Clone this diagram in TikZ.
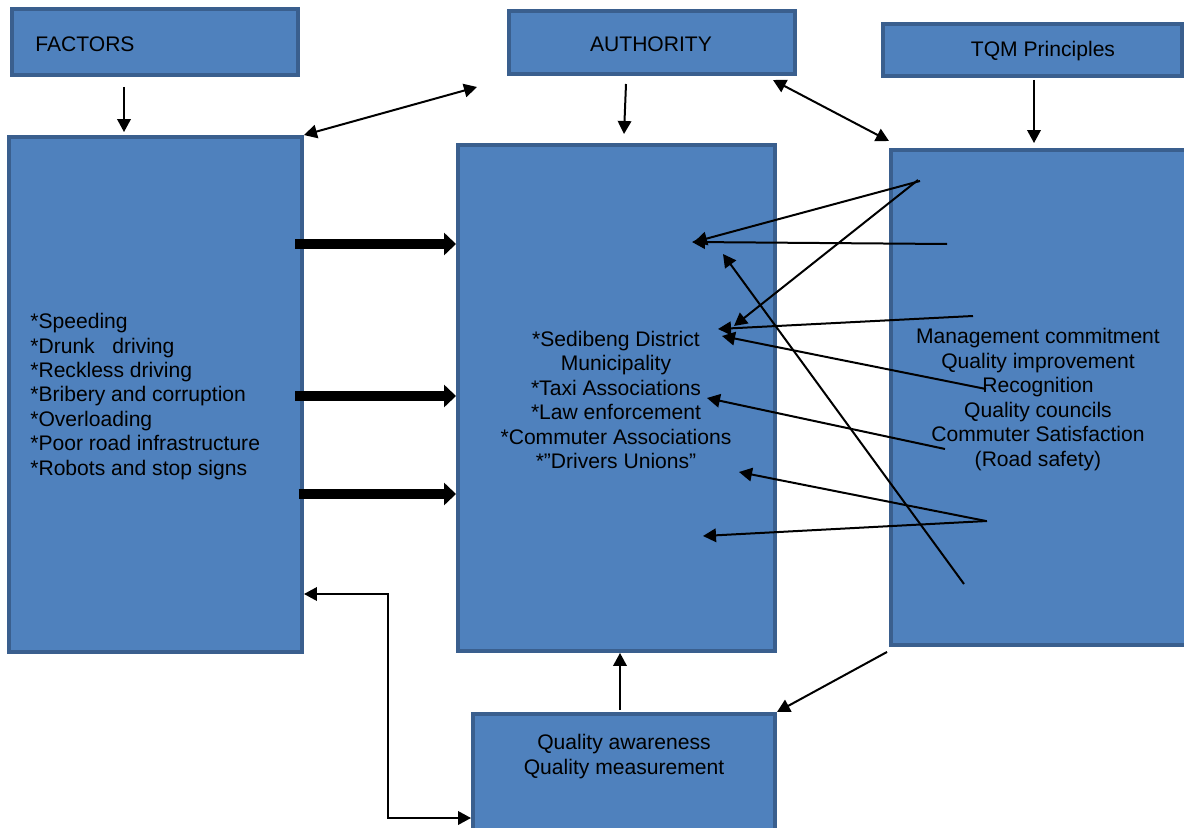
\documentclass[tikz,border=0pt]{standalone}
\usepackage{fontspec}
\setmainfont{Liberation Sans}
\usetikzlibrary{arrows.meta,calc}
\definecolor{boxfill}{HTML}{4F81BD}
\definecolor{boxline}{HTML}{3A5F8E}
\tikzset{
  box/.style={draw=boxline, fill=boxfill, line width=0.08cm, inner sep=0pt},
  txt/.style={font=\fontsize{12pt}{13.9pt}\selectfont, inner sep=0pt, text=black},
  arr/.style={line width=0.04cm, -{Triangle[length=0.26cm,width=0.27cm]}},
  darr/.style={line width=0.04cm, {Triangle[length=0.26cm,width=0.27cm]}-{Triangle[length=0.26cm,width=0.27cm]}},
  tarr/.style={line width=0.2cm, -{Triangle[length=0.24cm,width=0.44cm]}}
}
\begin{document}
\begin{tikzpicture}[x=0.02cm,y=-0.02cm]
\clip (0,0) rectangle (1184,828);
\useasboundingbox (0,0) rectangle (1184,828);
% boxes
\node[box, minimum width=5.72cm, minimum height=1.32cm] (fh) at (155,42) {};
\node[box, minimum width=5.86cm, minimum height=10.3cm] (fb) at (155.5,394.5) {};
\node[box, minimum width=5.72cm, minimum height=1.26cm] (ah) at (652,42.5) {};
\node[box, minimum width=6.34cm, minimum height=10.12cm] (ab) at (616.5,398) {};
\node[box, minimum width=5.98cm, minimum height=1.04cm] (th) at (1032.5,50) {};
\node[box, minimum width=6.34cm, minimum height=9.9cm] (tb) at (1049.5,397.5) {};
\node[box, minimum width=6.04cm, minimum height=2.48cm] (q) at (624,776) {};
% texts
\node[txt, anchor=west] (fht) at (35,44) {FACTORS};
\node[txt] (aht) at (651,44) {AUTHORITY};
\node[txt] (tht) at (1043,51) {TQM Principles};
\node[txt, anchor=west, align=left] (fbt) at (30,396.5) {*Speeding\\*Drunk \ \ driving\\*Reckless driving\\*Bribery and corruption\\*Overloading\\*Poor road infrastructure\\*Robots and stop signs};
\node[txt, align=center] (abt) at (616,400) {*Sedibeng District\\Municipality\\*Taxi Associations\\*Law enforcement\\*Commuter Associations\\*”Drivers Unions”};
\node[txt, align=center] (tbt) at (1038,399.5) {Management commitment\\Quality improvement\\Recognition\\Quality councils\\Commuter Satisfaction\\(Road safety)};
\node[txt, align=center] (qt) at (624,756.5) {Quality awareness\\Quality measurement};
% coordinates
\coordinate (c1) at (124,87);
\coordinate (c2) at (477,87);
\coordinate (y244) at (0,244);
\coordinate (y396) at (0,396);
\coordinate (y494) at (0,494);
\coordinate (a1) at (626,84);
\coordinate (a2) at (624,134);
\coordinate (d1) at (773,80);
\coordinate (d2) at (889,141);
\coordinate (t1) at (1034,80);
\coordinate (x620) at (620,0);
\coordinate (e1) at (388,594);
\coordinate (e2) at (388,818);
\coordinate (s1) at (920,181);  \coordinate (h1) at (694,242);
\coordinate (s2) at (947,244);  \coordinate (h2) at (692,242);
\coordinate (s3) at (918,180);  \coordinate (h3) at (734,326);
\coordinate (s4) at (973,316);  \coordinate (h4) at (718,329);
\coordinate (s5) at (986,389);  \coordinate (h5) at (722,336);
\coordinate (s6) at (945,449);  \coordinate (h6) at (707,398);
\coordinate (s7) at (986,521);  \coordinate (h7) at (739,472);
\coordinate (s8) at (987,521);  \coordinate (h8) at (703,536);
\coordinate (s9) at (964,584);  \coordinate (h9) at (723,254);
% connectors
\draw[arr, shorten >=0.06cm] (c1) -- (c1 |- fb.north);
\draw[darr] (fb.north east) -- (c2);
\draw[tarr] ([xshift=-5]y244 -| fb.east) -- (y244 -| ab.west);
\draw[tarr] ([xshift=-5]y396 -| fb.east) -- (y396 -| ab.west);
\draw[tarr] ([xshift=-3]y494 -| fb.east) -- (y494 -| ab.west);
\draw[arr] (a1) -- (a2);
\draw[darr] (d1) -- (d2);
\draw[arr, shorten >=0.1cm] (t1) -- (t1 |- tb.north);
\draw[arr, shorten <=0.04cm] (x620 |- q.north) -- (x620 |- ab.south);
\draw[arr] ([shift={(-2,5)}]tb.south west) -- (q.north east);
\draw[darr] (e1 -| fb.east) -- (e1) -- (e2) -- (e2 -| q.west);
\draw[arr] (s1) -- (h1);
\draw[arr] (s2) -- (h2);
\draw[arr] (s3) -- (h3);
\draw[arr] (s4) -- (h4);
\draw[arr] (s5) -- (h5);
\draw[arr] (s6) -- (h6);
\draw[arr] (s7) -- (h7);
\draw[arr] (s8) -- (h8);
\draw[arr] (s9) -- (h9);
\end{tikzpicture}
\end{document}
